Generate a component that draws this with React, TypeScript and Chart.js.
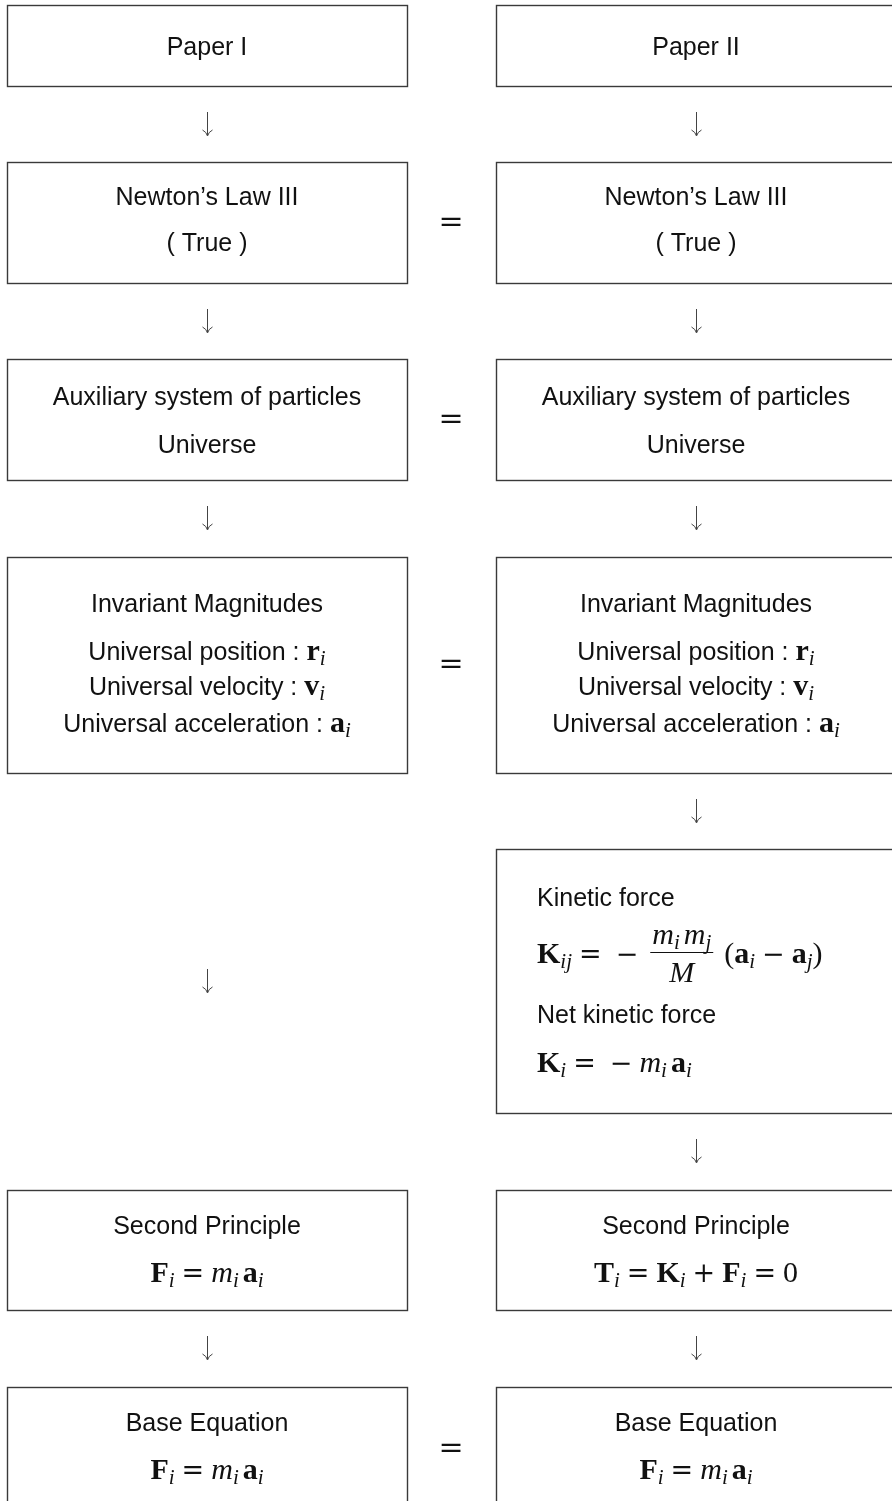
import React, { useEffect, useRef } from "react";
import { Chart, registerables } from "chart.js";

Chart.register(...registerables);

// ---------- data: texts ----------
const paperTitles = ["Paper I", "Paper II"];
const lawLines = ["Newton’s Law III", "( True )"];
const systemLines = ["Auxiliary system of particles", "Universe"];
const invariantTitle = "Invariant Magnitudes";
const invariantNames = ["Universal position", "Universal velocity", "Universal acceleration"];
const invariantSymbols = ["r", "v", "a"];
const kineticLabels = ["Kinetic force", "Net kinetic force"];
const principleTitle = "Second Principle";
const baseTitle = "Base Equation";

// ---------- layout (value units of the hidden linear scales) ----------
const canvasW = 892;
const canvasH = 1501;
const rowTop = [5, 162, 359, 557, 849, 1190, 1387];
const rowBottom = [86, 283, 480, 773, 1113, 1310, 1512];
const colLeft = [7, 496];
const colRight = [407, 896];
const leftBoxRows = [0, 1, 2, 3, 5, 6];
const rightBoxRows = [0, 1, 2, 3, 4, 5, 6];
const equalsY = [221, 418, 663, 1447];
const equalsX = 451;
const leftArrowY = [124, 321, 518, 981, 1348];
const rightArrowY = [124, 321, 518, 811, 1151, 1348];

const SANS = '"Liberation Sans", Arial, sans-serif';
const SERIF = '"Liberation Serif", "Times New Roman", serif';
const OPF = '"DejaVu Serif", serif';
const FS = 25;
const MS = 30;
const SUBS = 21;

type Seg = { k: string; t?: string; w?: number; num?: Seg[]; den?: Seg[] };
const S = (t: string): Seg => ({ k: "s", t });
const B = (t: string): Seg => ({ k: "b", t });
const I = (t: string): Seg => ({ k: "i", t });
const R = (t: string): Seg => ({ k: "r", t });
const Sub = (t: string): Seg => ({ k: "sub", t });
const Op = (t: string): Seg => ({ k: "op", t });
const Sp = (w: number): Seg => ({ k: "sp", w });
const Frac = (num: Seg[], den: Seg[]): Seg => ({ k: "frac", num, den });

function fontFor(k: string) {
  switch (k) {
    case "s": return `${FS}px ${SANS}`;
    case "b": return `bold ${MS}px ${SERIF}`;
    case "i": return `italic ${MS}px ${SERIF}`;
    case "r": return `${MS}px ${SERIF}`;
    case "sub": return `italic ${SUBS}px ${SERIF}`;
    case "op": return `${MS - 3}px ${OPF}`;
  }
  return `${FS}px ${SANS}`;
}
const OP_PAD = 7;

function segW(ctx: CanvasRenderingContext2D, s: Seg): number {
  if (s.k === "sp") return s.w || 0;
  if (s.k === "frac") return Math.max(lineW(ctx, s.num!), lineW(ctx, s.den!)) + 6;
  ctx.font = fontFor(s.k);
  const w = ctx.measureText(s.t || "").width;
  return s.k === "op" ? w + 2 * OP_PAD : w;
}
function lineW(ctx: CanvasRenderingContext2D, segs: Seg[]) {
  return segs.reduce((a, s) => a + segW(ctx, s), 0);
}
function drawLine(ctx: CanvasRenderingContext2D, segs: Seg[], x: number, y: number) {
  let cx = x;
  for (const s of segs) {
    const w = segW(ctx, s);
    if (s.k === "frac") {
      const nw = lineW(ctx, s.num!);
      const dw = lineW(ctx, s.den!);
      drawLine(ctx, s.num!, cx + (w - nw) / 2, y - 19);
      drawLine(ctx, s.den!, cx + (w - dw) / 2, y + 19);
      ctx.beginPath();
      ctx.lineWidth = 1.1;
      ctx.strokeStyle = "#111";
      ctx.moveTo(cx + 1, y - 10.5);
      ctx.lineTo(cx + w - 1, y - 10.5);
      ctx.stroke();
    } else if (s.k !== "sp") {
      ctx.font = fontFor(s.k);
      const dy = s.k === "sub" ? 5 : 0;
      const dx = s.k === "op" ? OP_PAD : 0;
      ctx.fillText(s.t || "", cx + dx, y + dy);
    }
    cx += w;
  }
}

type TextLine = { col: number; y: number; segs: Seg[]; left?: number };

const fEq: Seg[] = [B("F"), Sub("i"), Op("="), I("m"), Sub("i"), Sp(4), B("a"), Sub("i")];
const tEq: Seg[] = [B("T"), Sub("i"), Op("="), B("K"), Sub("i"), Op("+"), B("F"), Sub("i"), Op("="), R("0")];
const kijEq: Seg[] = [
  B("K"), Sub("ij"), Op("="), Op("−"), Sp(4),
  Frac([I("m"), Sub("i"), Sp(4), I("m"), Sub("j")], [I("M")]),
  Sp(10), R("("), B("a"), Sub("i"), Op("−"), B("a"), Sub("j"), R(")"),
];
const kiEq: Seg[] = [B("K"), Sub("i"), Op("="), Op("−"), I("m"), Sub("i"), Sp(4), B("a"), Sub("i")];

function buildLines(): TextLine[] {
  const out: TextLine[] = [];
  for (let c = 0; c < 2; c++) {
    out.push({ col: c, y: 55, segs: [S(paperTitles[c])] });
    out.push({ col: c, y: 205, segs: [S(lawLines[0])] });
    out.push({ col: c, y: 251, segs: [S(lawLines[1])] });
    out.push({ col: c, y: 405, segs: [S(systemLines[0])] });
    out.push({ col: c, y: 453, segs: [S(systemLines[1])] });
    out.push({ col: c, y: 612, segs: [S(invariantTitle)] });
    const invY = [660, 695, 732];
    invariantNames.forEach((n, i) => {
      out.push({ col: c, y: invY[i], segs: [S(n + " : "), B(invariantSymbols[i]), Sub("i")] });
    });
    out.push({ col: c, y: 1234, segs: [S(principleTitle)] });
    out.push({ col: c, y: 1282, segs: c === 0 ? fEq : tEq });
    out.push({ col: c, y: 1431, segs: [S(baseTitle)] });
    out.push({ col: c, y: 1479, segs: fEq });
  }
  out.push({ col: 1, y: 906, left: 537, segs: [S(kineticLabels[0])] });
  out.push({ col: 1, y: 963, left: 537, segs: kijEq });
  out.push({ col: 1, y: 1023, left: 537, segs: [S(kineticLabels[1])] });
  out.push({ col: 1, y: 1072, left: 537, segs: kiEq });
  return out;
}

const diagramPlugin = {
  id: "diagram",
  afterDraw(chart: any) {
    const ctx: CanvasRenderingContext2D = chart.ctx;
    const xs = chart.scales.x;
    const ys = chart.scales.y;
    const px = (v: number) => xs.getPixelForValue(v);
    const py = (v: number) => ys.getPixelForValue(v);
    ctx.save();
    ctx.fillStyle = "#fff";
    ctx.fillRect(0, 0, chart.width, chart.height);
    // boxes
    ctx.strokeStyle = "#3a3a3a";
    ctx.lineWidth = 1.4;
    const box = (c: number, r: number) => {
      const x0 = Math.round(px(colLeft[c])) + 0.5;
      const x1 = Math.round(px(colRight[c])) + 0.5;
      const y0 = Math.round(py(rowTop[r])) + 0.5;
      const y1 = Math.round(py(rowBottom[r])) + 0.5;
      ctx.strokeRect(x0, y0, x1 - x0, y1 - y0);
    };
    leftBoxRows.forEach((r) => box(0, r));
    rightBoxRows.forEach((r) => box(1, r));
    // arrows
    const arrow = (cx: number, cy: number) => {
      const x = Math.round(px(cx)) + 0.5;
      const y = py(cy);
      ctx.strokeStyle = "#444";
      ctx.lineWidth = 1;
      ctx.beginPath();
      ctx.moveTo(x, y - 12);
      ctx.lineTo(x, y + 11);
      ctx.stroke();
      ctx.beginPath();
      ctx.moveTo(x - 5, y + 6);
      ctx.quadraticCurveTo(x - 1, y + 8, x, y + 12);
      ctx.quadraticCurveTo(x + 1, y + 8, x + 5, y + 6);
      ctx.stroke();
    };
    const colCenter = (c: number) => (colLeft[c] + colRight[c]) / 2;
    leftArrowY.forEach((y) => arrow(colCenter(0), y));
    rightArrowY.forEach((y) => arrow(colCenter(1), y));
    // equals signs between columns
    ctx.fillStyle = "#111";
    ctx.textBaseline = "alphabetic";
    ctx.font = `30px ${OPF}`;
    equalsY.forEach((y) => {
      const w = ctx.measureText("=").width;
      ctx.fillText("=", px(equalsX) - w / 2, py(y) + 10);
    });
    // texts
    ctx.fillStyle = "#111";
    for (const ln of buildLines()) {
      const w = lineW(ctx, ln.segs);
      const x = ln.left !== undefined ? px(ln.left) : px(colCenter(ln.col)) - w / 2;
      drawLine(ctx, ln.segs, x, py(ln.y));
    }
    ctx.restore();
  },
};

export default function App() {
  const ref = useRef<HTMLCanvasElement | null>(null);
  useEffect(() => {
    document.body.style.margin = "0";
    document.body.style.overflow = "hidden";
    const canvas = ref.current!;
    const anchorPoints = [...leftArrowY.map((y) => ({ x: (colLeft[0] + colRight[0]) / 2, y })), ...rightArrowY.map((y) => ({ x: (colLeft[1] + colRight[1]) / 2, y }))];
    const chart = new Chart(canvas, {
      type: "scatter",
      data: { datasets: [{ data: anchorPoints, pointRadius: 0, showLine: false }] },
      options: {
        responsive: false,
        maintainAspectRatio: false,
        animation: false,
        events: [],
        layout: { padding: 0 },
        plugins: { legend: { display: false }, tooltip: { enabled: false } },
        scales: {
          x: { type: "linear", min: 0, max: canvasW, display: false },
          y: { type: "linear", min: 0, max: canvasH, reverse: true, display: false },
        },
      },
      plugins: [diagramPlugin],
    });
    return () => chart.destroy();
  }, []);
  return (
    <div style={{ width: canvasW, height: canvasH }}>
      <canvas ref={ref} width={canvasW} height={canvasH} style={{ display: "block" }} />
    </div>
  );
}
